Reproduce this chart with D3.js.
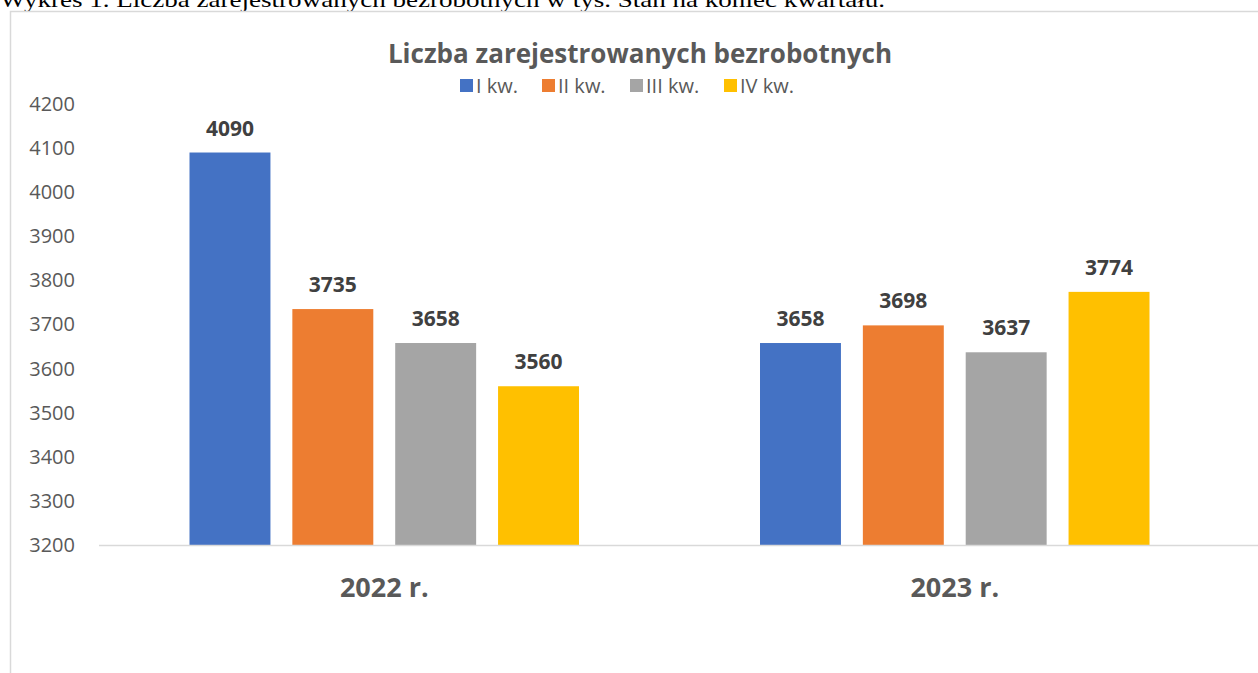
<!DOCTYPE html>
<html><head><meta charset="utf-8">
<script src="https://cdn.jsdelivr.net/npm/d3@7"></script>
<style>body{margin:0;background:#fff;} svg{display:block;}</style>
</head><body>
<svg id="c" width="1258" height="673"></svg>
<script>
const categories = ["2022 r.", "2023 r."];
const seriesNames = ["I kw.", "II kw.", "III kw.", "IV kw."];
const seriesColors = ["#4472C4", "#ED7D31", "#A5A5A5", "#FFC000"];
const values2022 = [4090, 3735, 3658, 3560];
const values2023 = [3658, 3698, 3637, 3774];
const yTicks = [3200, 3300, 3400, 3500, 3600, 3700, 3800, 3900, 4000, 4100, 4200];
const values = [values2022, values2023];

const svg = d3.select("#c");
const font = "'Open Sans', sans-serif";

// header caption (clipped at top)
svg.append("text").attr("x", 0).attr("y", 7)
  .attr("font-family", "'Liberation Serif', serif").attr("font-size", 21)
  .attr("fill", "#000")
  .attr("textLength", 885).attr("lengthAdjust", "spacingAndGlyphs")
  .text("Wykres 1. Liczba zarejestrowanych bezrobotnych w tys. Stan na koniec kwartału.");

// chart frame
svg.append("rect").attr("x", 10.5).attr("y", 11.5).attr("width", 1300).attr("height", 700)
  .attr("fill", "none").attr("stroke", "#d9d9d9").attr("stroke-width", 1.5);

const plot = {left: 99, right: 1240, top: 104, bottom: 545};
const y = d3.scaleLinear().domain([3200, 4200]).range([plot.bottom, plot.top]);
const x0 = d3.scaleBand().domain(categories).range([plot.left, plot.right]).paddingInner(0).paddingOuter(0);
const groupPad = 90.5;
const x1 = d3.scaleBand().domain(seriesNames).range([groupPad, x0.bandwidth() - groupPad]).paddingInner(22/103.3).paddingOuter(0);

// y axis labels
const yAxis = d3.axisLeft(y).tickValues(yTicks).tickSize(0).tickPadding(0).tickFormat(d3.format("d"));
const ya = svg.append("g").attr("transform", `translate(75,0)`).call(yAxis);
ya.select(".domain").remove();
ya.selectAll("text").attr("font-family", font).attr("font-size", 20).attr("fill", "#595959");

// bars
const g = svg.append("g");
categories.forEach((cat, ci) => {
  const gg = g.append("g").attr("transform", `translate(${x0(cat)},0)`);
  gg.selectAll("rect").data(values[ci]).join("rect")
    .attr("x", (d, i) => x1(seriesNames[i]))
    .attr("y", d => y(d))
    .attr("width", x1.bandwidth())
    .attr("height", d => y(3200) - y(d))
    .attr("fill", (d, i) => seriesColors[i]);
  gg.selectAll("text").data(values[ci]).join("text")
    .attr("x", (d, i) => x1(seriesNames[i]) + x1.bandwidth() / 2)
    .attr("y", d => y(d) - 17)
    .attr("text-anchor", "middle")
    .attr("font-family", font).attr("font-size", 21).attr("font-weight", "bold")
    .attr("fill", "#404040")
    .text(d => d);
});

// x axis line
svg.append("line").attr("x1", plot.left).attr("x2", 1258).attr("y1", plot.bottom + 0.5).attr("y2", plot.bottom + 0.5)
  .attr("stroke", "#d9d9d9").attr("stroke-width", 1.5);

// x axis labels
const xAxis = d3.axisBottom(x0).tickSize(0).tickPadding(0);
const xa = svg.append("g").attr("transform", `translate(0,597)`).call(xAxis);
xa.select(".domain").remove();
xa.selectAll("text").attr("font-family", font).attr("font-size", 27).attr("font-weight", "bold").attr("fill", "#595959").attr("dy", "0");

// title
svg.append("text").attr("x", 640).attr("y", 63).attr("text-anchor", "middle")
  .attr("font-family", font).attr("font-size", 26).attr("font-weight", "bold").attr("fill", "#595959")
  .text("Liczba zarejestrowanych bezrobotnych");

// legend
const legendX = [460, 542, 630, 724];
const lg = svg.append("g");
seriesNames.forEach((s, i) => {
  lg.append("rect").attr("x", legendX[i]).attr("y", 79).attr("width", 13).attr("height", 13).attr("fill", seriesColors[i]);
  lg.append("text").attr("x", legendX[i] + 16).attr("y", 93)
    .attr("font-family", font).attr("font-size", 20).attr("fill", "#595959").text(s);
});
</script>
</body></html>
